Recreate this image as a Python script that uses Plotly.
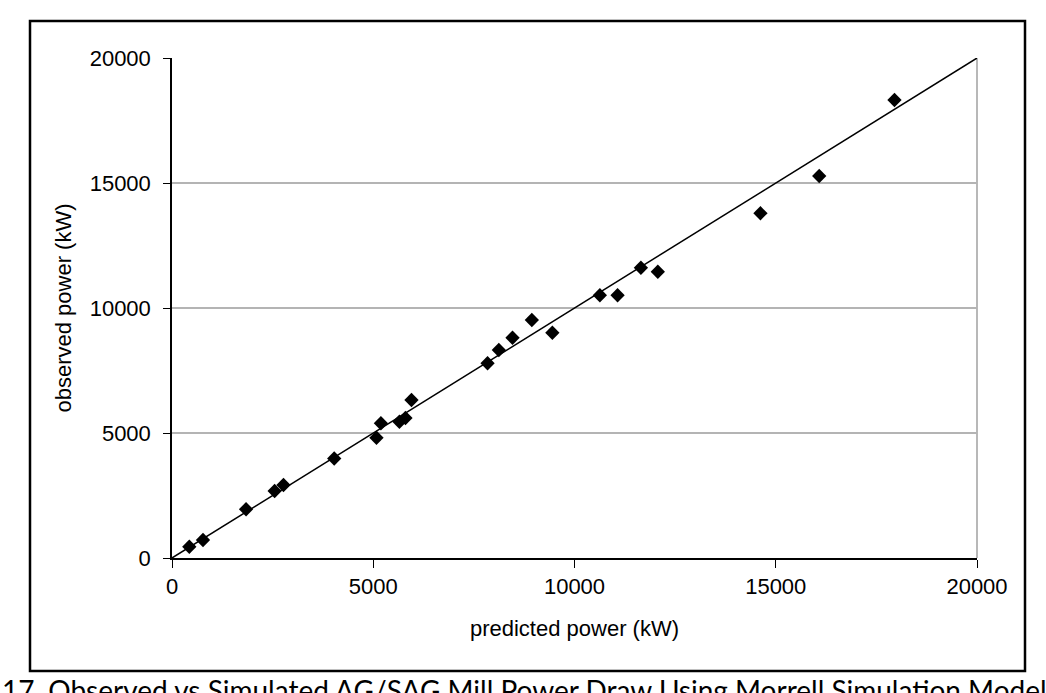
import plotly.graph_objects as go

# Data (kW)
predicted = [430, 770, 1840, 2550, 2770, 4030, 5080, 5190, 5650, 5800, 5950,
             7840, 8120, 8460, 8940, 9450, 10630, 11070, 11650, 12070,
             14620, 16080, 17950]
observed = [450, 720, 1950, 2680, 2920, 3980, 4810, 5390, 5450, 5600, 6320,
            7790, 8320, 8810, 9520, 9010, 10510, 10510, 11610, 11450,
            13790, 15280, 18320]
line_x = [0, 20000]
line_y = [0, 20000]
tick_vals = [0, 5000, 10000, 15000, 20000]
tick_text = ["0", "5000", "10000", "15000", "20000"]
caption = "17. Observed vs Simulated AG/SAG Mill Power Draw Using Morrell Simulation Model"

W, H = 1046, 693
L, R, T, B = 172, 977, 58, 558


def px(x):
    return (x - L) / (R - L)


def py(y):
    return (B - y) / (B - T)


fig = go.Figure()
fig.add_trace(go.Scatter(x=line_x, y=line_y, mode="lines",
                         line=dict(color="black", width=1.5),
                         showlegend=False, hoverinfo="skip"))
fig.add_trace(go.Scatter(x=predicted, y=observed, mode="markers",
                         marker=dict(symbol="diamond", size=11, color="black",
                                     line=dict(width=0)),
                         showlegend=False))

font = dict(family="Liberation Sans, Arial, sans-serif", size=22, color="black")

fig.update_layout(
    width=W, height=H,
    margin=dict(l=L, r=W - R, t=T, b=H - B, autoexpand=False),
    paper_bgcolor="white", plot_bgcolor="white",
    font=font,
    xaxis=dict(range=[0, 20000], tickvals=tick_vals, ticktext=tick_text,
               showgrid=False, zeroline=False, showline=True,
               linecolor="black", linewidth=1.5, ticks="outside", ticklen=8,
               tickcolor="black", tickwidth=1, tickfont=font,
               title=dict(text="predicted power (kW)", font=font, standoff=22),
               automargin=False, fixedrange=True),
    yaxis=dict(range=[0, 20000], tickvals=tick_vals, ticktext=tick_text,
               showgrid=True, gridcolor="#b4b4b4", gridwidth=1.5,
               zeroline=False, showline=True,
               linecolor="black", linewidth=1.5, ticks="outside", ticklen=7,
               tickcolor="black", tickwidth=1, tickfont=font,
               ticklabelstandoff=8,
               title=dict(text="observed power (kW)", font=font, standoff=12),
               automargin=False, fixedrange=True),
    shapes=[
        # grey right border of plot area
        dict(type="line", xref="paper", yref="paper", x0=1, x1=1, y0=0, y1=1,
             line=dict(color="#a0a0a0", width=1.5), layer="below"),
        # outer frame
        dict(type="rect", xref="paper", yref="paper",
             x0=px(30), x1=px(1025), y0=py(671), y1=py(21),
             line=dict(color="black", width=2.5), fillcolor="rgba(0,0,0,0)"),
    ],
    annotations=[
        dict(text=caption, xref="paper", yref="paper", x=px(0), y=py(671),
             xanchor="left", yanchor="top", showarrow=False,
             font=dict(family="Lato, Open Sans, sans-serif", size=28,
                       color="black")),
    ],
)

fig.write_html("out.html")
